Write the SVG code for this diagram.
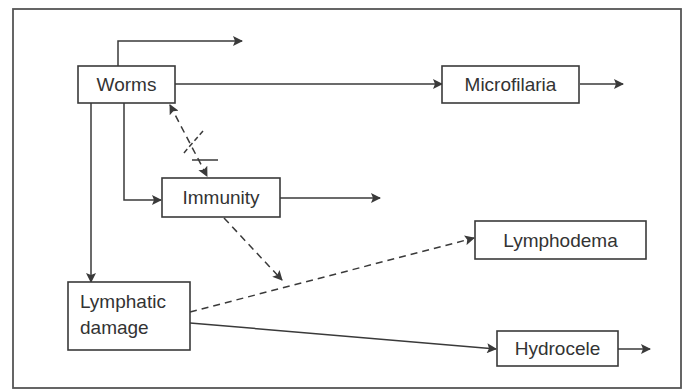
<svg xmlns="http://www.w3.org/2000/svg" width="688" height="389" viewBox="0 0 688 389">
<style>
.box{fill:#fff;stroke:#3a3a3a;stroke-width:1.6}
.t{font-family:"Liberation Sans",Arial,sans-serif;font-size:19px;fill:#333}
.ln{fill:none;stroke:#3a3a3a;stroke-width:1.5}
.d{stroke-dasharray:7,5}
</style>
<defs>
<marker id="ah" viewBox="0 0 10 10" refX="9" refY="5" markerWidth="11" markerHeight="10" markerUnits="userSpaceOnUse" orient="auto-start-reverse">
<path d="M0,0 L10,5 L0,10 L2,5 Z" fill="#3a3a3a"/>
</marker>
</defs>
<rect x="0" y="0" width="688" height="389" fill="#fff"/>
<rect x="13" y="9" width="668" height="379" fill="none" stroke="#555" stroke-width="1.8"/>
<g id="connectors">
<path class="ln" d="M118,66 V41 H242" marker-end="url(#ah)"/>
<path class="ln" d="M175,84 H442" marker-end="url(#ah)"/>
<path class="ln" d="M580,84 H623" marker-end="url(#ah)"/>
<path class="ln" d="M91,103 V282" marker-end="url(#ah)"/>
<path class="ln" d="M124,103 V200 H161" marker-end="url(#ah)"/>
<path class="ln" d="M280,198 H380" marker-end="url(#ah)"/>
<path class="ln d" d="M224,218 L282,280" marker-end="url(#ah)"/>
<path class="ln d" d="M170,105 L207,176" marker-start="url(#ah)" marker-end="url(#ah)"/>
<path class="ln d" d="M203,131 L183,154" style="stroke-dasharray:5,3"/>
<path class="ln" d="M192,160 H218"/>
<path class="ln d" d="M190,312 L474,238" marker-end="url(#ah)"/>
<path class="ln" d="M190,323 L496,349" marker-end="url(#ah)"/>
<path class="ln" d="M618,349 H650" marker-end="url(#ah)"/>
</g>
<g id="worms"><rect class="box" x="78" y="66" width="97" height="37"/><text class="t" x="126.5" y="91" text-anchor="middle">Worms</text></g>
<g id="microfilaria"><rect class="box" x="442" y="66" width="137" height="37"/><text class="t" x="510.5" y="91" text-anchor="middle">Microfilaria</text></g>
<g id="immunity"><rect class="box" x="162" y="178" width="118" height="39"/><text class="t" x="221" y="204" text-anchor="middle">Immunity</text></g>
<g id="lymphatic"><rect class="box" x="68" y="282" width="122" height="68"/><text class="t" x="80" y="308">Lymphatic</text><text class="t" x="80" y="334">damage</text></g>
<g id="lymphodema"><rect class="box" x="475" y="221" width="171" height="38"/><text class="t" x="560.5" y="247" text-anchor="middle">Lymphodema</text></g>
<g id="hydrocele"><rect class="box" x="497" y="331" width="121" height="35"/><text class="t" x="557.5" y="355" text-anchor="middle">Hydrocele</text></g>
</svg>
